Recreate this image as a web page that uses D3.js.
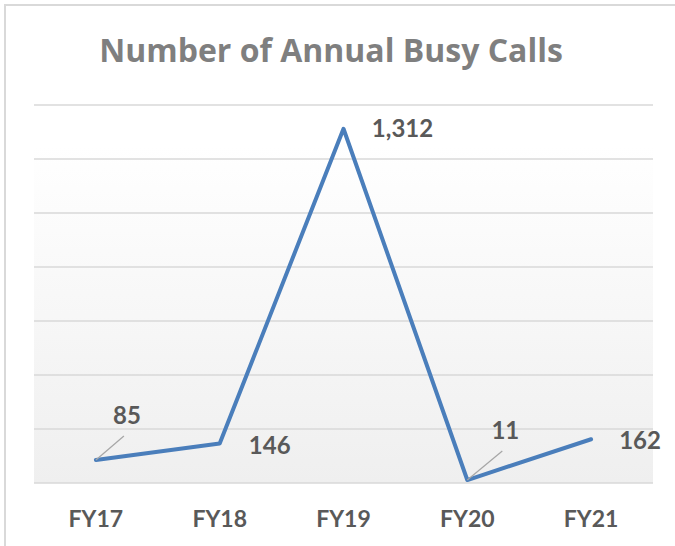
<!DOCTYPE html>
<html>
<head>
<meta charset="utf-8">
<script src="https://cdn.jsdelivr.net/npm/d3@7"></script>
<style>
  html, body { margin: 0; padding: 0; background: #fff; }
  svg { display: block; font-family: Lato, "Open Sans", sans-serif; }
</style>
</head>
<body>
<div id="vis"></div>
<script>
// data
const years = ["FY17", "FY18", "FY19", "FY20", "FY21"];
const busyCalls = [85, 146, 1312, 11, 162];
const yTicks = [0, 200, 400, 600, 800, 1000, 1200, 1400];

// where each value label sits relative to its point (dx, baseline dy), plus leader flag
const labelOffsets = [[31, -36, true], [50, 10, false], [59, 8, false], [38, -41, true], [49, 10, false]];

const width = 675, height = 546;
const plot = {left: 34, right: 653, top: 105, bottom: 483};

const svg = d3.select("#vis").append("svg")
  .attr("width", width)
  .attr("height", height);

// chart frame
svg.append("rect")
  .attr("x", 5).attr("y", 5)
  .attr("width", width + 10).attr("height", height + 10)
  .attr("fill", "#fff")
  .attr("stroke", "#d9d9d9")
  .attr("stroke-width", 2);

const grad = svg.append("defs").append("linearGradient")
  .attr("id", "bg").attr("x1", 0).attr("y1", 0).attr("x2", 0).attr("y2", 1);
grad.append("stop").attr("offset", "0").attr("stop-color", "#ffffff");
grad.append("stop").attr("offset", "0.11").attr("stop-color", "#ffffff");
grad.append("stop").attr("offset", "1").attr("stop-color", "#efefef");

const x = d3.scaleBand().domain(years).range([plot.left, plot.right]);
const y = d3.scaleLinear().domain([0, 1400]).range([plot.bottom, plot.top]);
const cx = d => x(d) + x.bandwidth() / 2;

svg.append("rect")
  .attr("x", plot.left).attr("y", plot.top)
  .attr("width", plot.right - plot.left)
  .attr("height", plot.bottom - plot.top)
  .attr("fill", "url(#bg)");

// gridlines
svg.append("g")
  .selectAll("line")
  .data(yTicks)
  .join("line")
  .attr("x1", plot.left).attr("x2", plot.right)
  .attr("y1", d => y(d)).attr("y2", d => y(d))
  .attr("stroke", "#d9d9d9")
  .attr("stroke-width", 1.5);

// x axis labels
const xAxis = svg.append("g")
  .attr("transform", `translate(0,${plot.bottom})`)
  .call(d3.axisBottom(x).tickSize(0).tickPadding(0));
xAxis.select(".domain").remove();
xAxis.selectAll("text")
  .attr("dy", null)
  .attr("y", 44)
  .attr("fill", "#595959")
  .style("font-family", "Lato, sans-serif")
  .style("font-size", "23px")
  .style("font-weight", "bold");

// line
const pts = years.map((d, i) => ({year: d, value: busyCalls[i]}));
svg.append("path")
  .datum(pts)
  .attr("fill", "none")
  .attr("stroke", "#4a7ebb")
  .attr("stroke-width", 4)
  .attr("stroke-linejoin", "round")
  .attr("stroke-linecap", "round")
  .attr("d", d3.line().x(d => cx(d.year)).y(d => y(d.value)));

// leader lines
svg.append("g")
  .selectAll("line")
  .data(pts.filter((d, i) => labelOffsets[i][2]))
  .join("line")
  .attr("x1", d => cx(d.year))
  .attr("y1", d => y(d.value))
  .attr("x2", d => cx(d.year) + labelOffsets[years.indexOf(d.year)][0] - 3)
  .attr("y2", d => y(d.value) + labelOffsets[years.indexOf(d.year)][1] + 12)
  .attr("stroke", "#a6a6a6")
  .attr("stroke-width", 1.2);

// value labels
svg.append("g")
  .selectAll("text")
  .data(pts)
  .join("text")
  .attr("x", (d, i) => cx(d.year) + labelOffsets[i][0])
  .attr("y", (d, i) => y(d.value) + labelOffsets[i][1])
  .attr("text-anchor", "middle")
  .attr("fill", "#595959")
  .style("font-size", "24px")
  .style("font-weight", "bold")
  .text(d => d3.format(",")(d.value));

// title
svg.append("text")
  .attr("x", 331)
  .attr("y", 62)
  .attr("text-anchor", "middle")
  .attr("fill", "#7f7f7f")
  .style("font-family", "'Open Sans', sans-serif")
  .style("font-size", "32px")
  .style("font-weight", "bold")
  .text("Number of Annual Busy Calls");
</script>
</body>
</html>
